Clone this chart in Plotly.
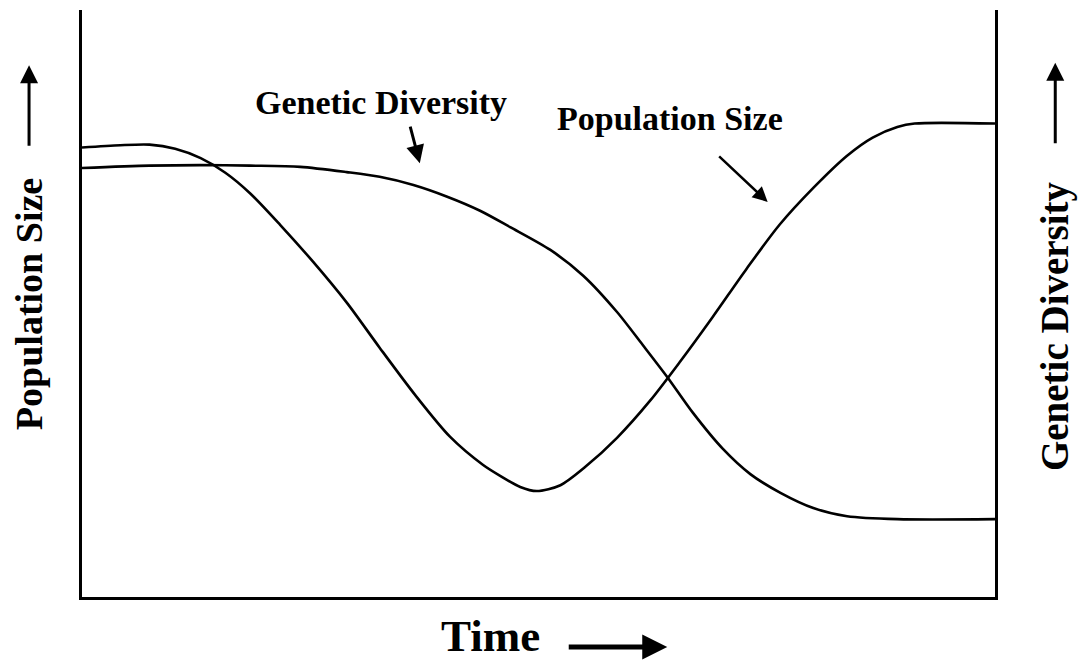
import plotly.graph_objects as go

# Time axis (0-100) and curve values (0-100 scale)
ps_time = [0, 4.2, 7.4, 10.2, 13.0, 15.7, 18.4, 21.7, 25.3, 29.0, 32.6, 36.5, 40.3, 43.9, 45.8,
           48.0, 49.8, 52.4, 55.1, 58.6, 62.2, 65.5, 69.1, 72.8, 76.4, 80.1, 83.8, 86.6, 89.3,
           91.2, 100]
ps_vals = [76.8, 77.2, 77.3, 76.6, 75.0, 72.5, 69.0, 63.6, 57.3, 50.3, 42.6, 34.5, 27.4, 22.6, 20.7,
           18.8, 18.1, 19.1, 22.2, 27.2, 33.5, 40.2, 47.9, 56.1, 63.6, 69.9, 75.4, 78.5, 80.3,
           80.9, 80.9]

gd_time = [0, 7.4, 12.9, 18.4, 23.9, 29.0, 32.6, 36.3, 40.0, 43.6, 46.9, 51.3, 54.9, 58.6,
           61.4, 64.1, 66.9, 70.2, 73.2, 76.5, 80.1, 83.8, 89.3, 100]
gd_vals = [73.3, 73.7, 73.8, 73.7, 73.5, 72.6, 71.8, 70.4, 68.4, 66.0, 63.2, 59.3, 54.9, 48.7,
           43.1, 37.6, 31.5, 25.3, 21.0, 17.8, 15.2, 13.8, 13.3, 13.3]

FONT = "Liberation Serif, Times New Roman, serif"

fig = go.Figure()
fig.add_trace(go.Scatter(x=ps_time, y=ps_vals, mode="lines", name="Population Size",
                         line=dict(color="black", width=2.6, shape="spline", smoothing=0.8)))
fig.add_trace(go.Scatter(x=gd_time, y=gd_vals, mode="lines", name="Genetic Diversity",
                         line=dict(color="black", width=2.6, shape="spline", smoothing=0.8)))

ann = []
# axis titles
ann.append(dict(text="<b>Population Size</b>", x=-0.058, y=0.499, xref="paper", yref="paper",
                textangle=-90, showarrow=False, font=dict(family=FONT, size=38, color="black"),
                xanchor="center", yanchor="middle"))
ann.append(dict(text="<b>Genetic Diversity</b>", x=1.066, y=0.462, xref="paper", yref="paper",
                textangle=-90, showarrow=False, font=dict(family=FONT, size=39, color="black"),
                xanchor="center", yanchor="middle"))
ann.append(dict(text="<b>Time</b>", x=0.447, y=-0.067, xref="paper", yref="paper",
                showarrow=False, font=dict(family=FONT, size=45, color="black"),
                xanchor="center", yanchor="middle"))
# axis arrows
ann.append(dict(text="", x=-0.058, y=0.906, xref="paper", yref="paper", showarrow=True,
                ax=0, ay=82, arrowhead=2, arrowsize=1.2, arrowwidth=3, arrowcolor="black"))
ann.append(dict(text="", x=1.066, y=0.910, xref="paper", yref="paper", showarrow=True,
                ax=0, ay=82, arrowhead=2, arrowsize=1.2, arrowwidth=3, arrowcolor="black"))
ann.append(dict(text="", x=0.641, y=-0.085, xref="paper", yref="paper", showarrow=True,
                ax=-100, ay=0, arrowhead=2, arrowsize=1.0, arrowwidth=5, arrowcolor="black"))
# curve labels
ann.append(dict(text="<b>Genetic Diversity</b>", x=0.327, y=0.843, xref="paper", yref="paper",
                showarrow=False, font=dict(family=FONT, size=34, color="black"),
                xanchor="center", yanchor="middle"))
ann.append(dict(text="", x=0.370, y=0.739, xref="paper", yref="paper", showarrow=True,
                ax=-10, ay=-38, arrowhead=2, arrowsize=1.2, arrowwidth=3, arrowcolor="black"))
ann.append(dict(text="<b>Population Size</b>", x=0.644, y=0.816, xref="paper", yref="paper",
                showarrow=False, font=dict(family=FONT, size=34, color="black"),
                xanchor="center", yanchor="middle"))
ann.append(dict(text="", x=0.751, y=0.673, xref="paper", yref="paper", showarrow=True,
                ax=-50, ay=-47, arrowhead=2, arrowsize=1.2, arrowwidth=2.5, arrowcolor="black"))

fig.update_layout(
    width=1079, height=663,
    margin=dict(l=82, r=84, t=10, b=66),
    paper_bgcolor="white", plot_bgcolor="white",
    showlegend=False,
    annotations=ann,
    xaxis=dict(range=[0, 100], showline=True, linecolor="black", linewidth=3,
               showgrid=False, zeroline=False, showticklabels=False, ticks=""),
    yaxis=dict(range=[0, 100.3], showline=True, linecolor="black", linewidth=3, mirror=True,
               showgrid=False, zeroline=False, showticklabels=False, ticks=""),
)

fig.write_html("out.html", config={"displayModeBar": False},
               post_script="document.body.style.margin='0px';document.body.style.overflow='hidden';")
